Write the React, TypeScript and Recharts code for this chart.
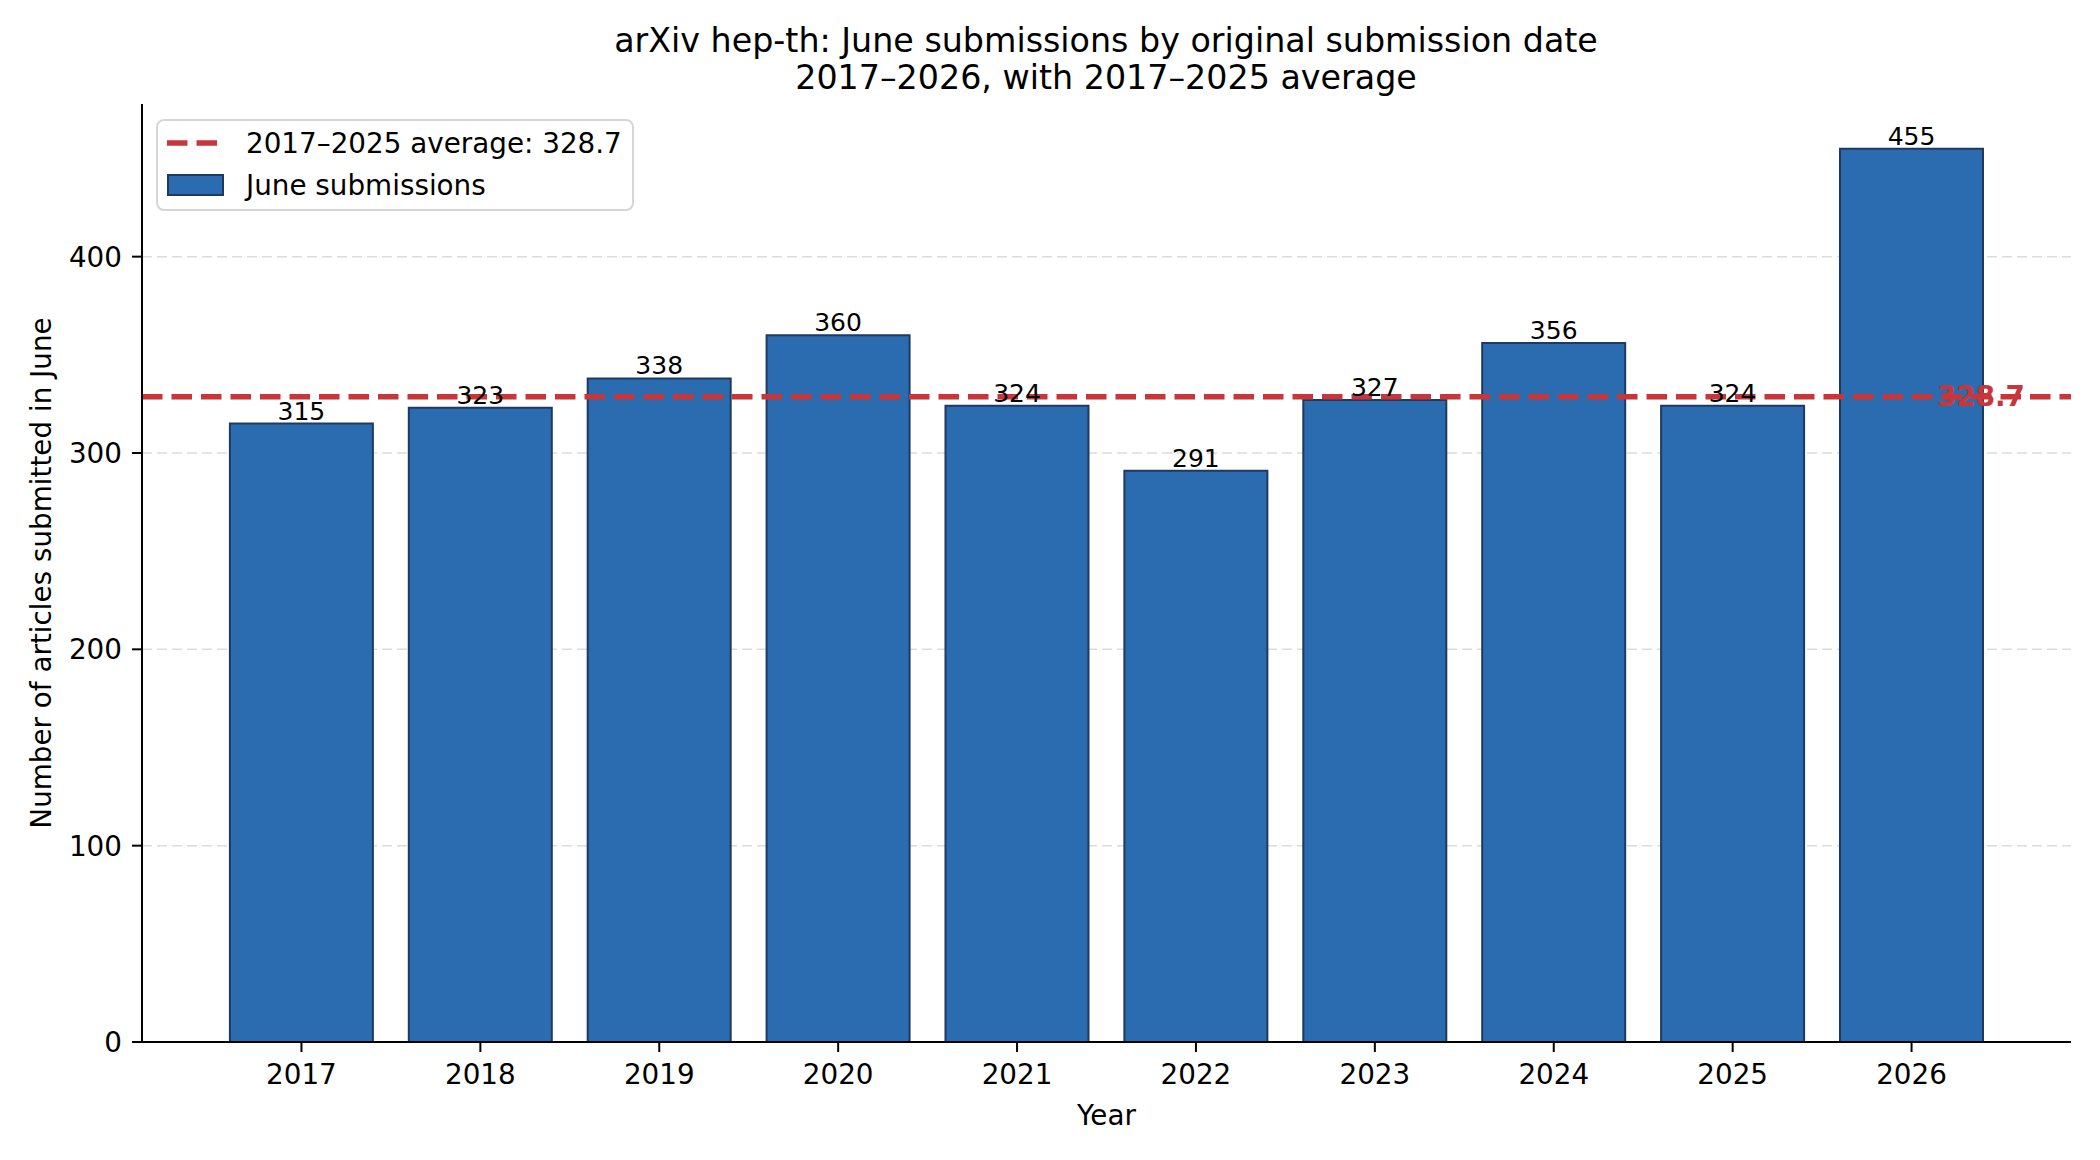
import {
  Bar,
  BarChart,
  CartesianGrid,
  LabelList,
  Legend,
  ReferenceLine,
  XAxis,
  YAxis,
} from "recharts";

const YEARS = ["2017", "2018", "2019", "2020", "2021", "2022", "2023", "2024", "2025", "2026"];
const JUNE_COUNTS = [315, 323, 338, 360, 324, 291, 327, 356, 324, 455];
const BASELINE_AVERAGE = 328.7;
const Y_TICKS = [0, 100, 200, 300, 400];

const FONT = "'DejaVu Sans', sans-serif";
const BAR_FILL = "#2b6cb0";
const BAR_EDGE = "#1f3a60";
const AVG_RED = "#c8363a";

const chartData = YEARS.map((year, i) => ({ year, count: JUNE_COUNTS[i] }));

function XAxisTitle({ viewBox }: any) {
  return (
    <text
      x={viewBox.x + viewBox.width / 2}
      y={viewBox.y + 83}
      textAnchor="middle"
      fontFamily={FONT}
      fontSize={27.8}
      fill="#000"
    >
      Year
    </text>
  );
}

function YAxisTitle({ viewBox }: any) {
  const cy = viewBox.y + viewBox.height / 2;
  return (
    <text
      x={51}
      y={cy}
      transform={`rotate(-90, 51, ${cy})`}
      textAnchor="middle"
      fontFamily={FONT}
      fontSize={27.8}
      fill="#000"
    >
      Number of articles submitted in June
    </text>
  );
}

function AverageTag({ viewBox }: any) {
  return (
    <text
      x={viewBox.x + viewBox.width - 90}
      y={viewBox.y}
      textAnchor="middle"
      dominantBaseline="central"
      fontFamily={FONT}
      fontSize={27.8}
      fontWeight="bold"
      fill={AVG_RED}
    >
      {BASELINE_AVERAGE.toFixed(1)}
    </text>
  );
}

function LegendBox() {
  return (
    <svg width={478} height={92} style={{ display: "block" }}>
      <rect x={1} y={1} width={476} height={90} rx={7} fill="#fff" fillOpacity={0.8} stroke="#d6d6d6" strokeWidth={2} />
      <line x1={11} x2={67} y1={24} y2={24} stroke={AVG_RED} strokeWidth={5.5} strokeDasharray="20.5 9" />
      <text x={90} y={24} dominantBaseline="central" fontFamily={FONT} fontSize={27.8} fill="#000">
        {`2017–2025 average: ${BASELINE_AVERAGE.toFixed(1)}`}
      </text>
      <rect x={12} y={56} width={55} height={20} fill={BAR_FILL} stroke={BAR_EDGE} strokeWidth={2} />
      <text x={90} y={66} dominantBaseline="central" fontFamily={FONT} fontSize={27.8} fill="#000">
        June submissions
      </text>
    </svg>
  );
}

export default function App() {
  return (
    <div style={{ position: "absolute", left: 0, top: 0, width: 2100, height: 1160, background: "#fff", fontFamily: FONT }}>
      <div
        style={{
          position: "absolute",
          left: 106,
          top: 22,
          width: 2000,
          textAlign: "center",
          fontSize: 33.3,
          lineHeight: "37px",
          color: "#000",
        }}
      >
        <div>arXiv hep-th: June submissions by original submission date</div>
        <div>2017–2026, with 2017–2025 average</div>
      </div>
      <BarChart
        width={2100}
        height={1160}
        data={chartData}
        margin={{ top: 104, right: 29, bottom: 0, left: 0 }}
        barCategoryGap="10%"
      >
        <CartesianGrid
          vertical={false}
          horizontalValues={Y_TICKS}
          stroke="#dcdcdc"
          strokeDasharray="10 5"
          strokeWidth={1.5}
        />
        <XAxis
          dataKey="year"
          height={118}
          padding={{ left: 70, right: 70 }}
          tickSize={10}
          tickMargin={12}
          axisLine={{ stroke: "#000", strokeWidth: 2 }}
          tickLine={{ stroke: "#000", strokeWidth: 2 }}
          tick={{ fill: "#000", fontSize: 27.8, fontFamily: FONT }}
          label={<XAxisTitle />}
        />
        <YAxis
          width={142}
          domain={[0, 477.75]}
          ticks={Y_TICKS}
          tickSize={10}
          tickMargin={10}
          axisLine={{ stroke: "#000", strokeWidth: 2 }}
          tickLine={{ stroke: "#000", strokeWidth: 2 }}
          tick={{ fill: "#000", fontSize: 27.8, fontFamily: FONT }}
          label={<YAxisTitle />}
        />
        <Bar dataKey="count" fill={BAR_FILL} stroke={BAR_EDGE} strokeWidth={2} isAnimationActive={false}>
          <LabelList dataKey="count" position="top" offset={4} fill="#000" fontSize={25} fontFamily={FONT} />
        </Bar>
        <ReferenceLine
          y={BASELINE_AVERAGE}
          stroke={AVG_RED}
          strokeWidth={5.5}
          strokeDasharray="20.5 9"
          label={<AverageTag />}
        />
        <Legend
          layout="vertical"
          align="center"
          verticalAlign="middle"
          wrapperStyle={{ left: 156, top: 119, width: 478, height: 92 }}
          content={() => <LegendBox />}
        />
      </BarChart>
    </div>
  );
}
